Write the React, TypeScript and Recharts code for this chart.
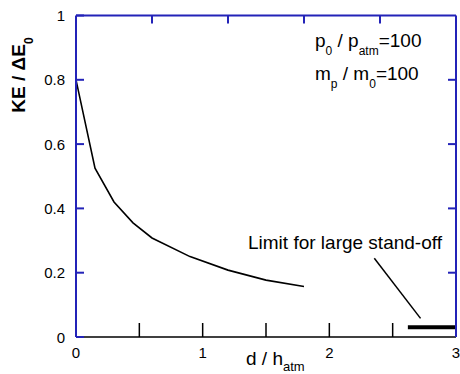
import React from 'react';
import { LineChart, Line, XAxis, YAxis, ReferenceLine } from 'recharts';

// Kinetic energy fraction vs. normalised stand-off distance
const standoff = [0, 0.15, 0.3, 0.45, 0.6, 0.9, 1.2, 1.5, 1.8];
const keRatio = [0.8, 0.525, 0.42, 0.355, 0.308, 0.25, 0.208, 0.177, 0.157];

// Asymptotic value for large stand-off
const limitStandoff = [2.62, 3];
const limitKe = [0.03, 0.03];

// Pointer from the "Limit" caption to the asymptote
const pointerStart = { x: 2.355, y: 0.245 };
const pointerEnd = { x: 2.72, y: 0.058 };

const bottomTicks = [0, 0.5, 1, 1.5, 2, 2.5, 3];
const topTicks = [0, 0.6, 1.2, 1.8, 2.4, 3];
const yTicks = [0, 0.2, 0.4, 0.6, 0.8, 1];

const curveData = standoff.map((x, i) => ({ x, ke: keRatio[i] }));
const limitData = limitStandoff.map((x, i) => ({ x, ke: limitKe[i] }));

const BLUE = '#2323b8';
const FONT = '"Liberation Sans", Arial, sans-serif';

const LeftTick = (props: any) => {
  const { x, y, payload } = props;
  return (
    <g>
      <line x1={x} y1={y} x2={x + 8} y2={y} stroke={BLUE} strokeWidth={2} />
      <text x={x - 11} y={y} textAnchor="end" dominantBaseline="central" fontSize={15} fontFamily={FONT} fill="#000">
        {String(payload.value)}
      </text>
    </g>
  );
};

const RightTick = (props: any) => {
  const { x, y, payload } = props;
  if (payload.value === 0 || payload.value === 1) return <g />;
  return <line x1={x} y1={y} x2={x - 8} y2={y} stroke={BLUE} strokeWidth={2} />;
};

const TopTick = (props: any) => {
  const { x, y, payload } = props;
  if (payload.value === 0 || payload.value === 3) return <g />;
  return <line x1={x} y1={y} x2={x} y2={y + 8} stroke={BLUE} strokeWidth={2} />;
};

const BottomTick = (props: any) => {
  const { x, y, payload } = props;
  const v = payload.value;
  const edge = v === 0 || v === 3;
  return (
    <g>
      {!edge && <line x1={x} y1={y} x2={x} y2={y - 14} stroke="#000" strokeWidth={1.5} />}
      {Number.isInteger(v) && (
        <text x={x} y={y + 15} textAnchor="middle" dominantBaseline="central" fontSize={15} fontFamily={FONT} fill="#000">
          {String(v)}
        </text>
      )}
    </g>
  );
};

export default function App() {
  return (
    <div style={{ position: 'absolute', left: 0, top: 0, width: 460, height: 374, overflow: 'hidden' }}>
      <LineChart width={460} height={374} margin={{ top: 11.5, right: 2, bottom: 27, left: 66 }}>
        <XAxis
          xAxisId="bottom"
          type="number"
          dataKey="x"
          domain={[0, 3]}
          ticks={bottomTicks}
          interval={0}
          orientation="bottom"
          height={10}
          tickSize={0}
          tickMargin={0}
          tick={<BottomTick />}
          axisLine={{ stroke: '#000', strokeWidth: 1.5 }}
          tickLine={false}
          allowDataOverflow
        />
        <XAxis
          xAxisId="top"
          type="number"
          dataKey="x"
          domain={[0, 3]}
          ticks={topTicks}
          interval={0}
          orientation="top"
          height={4}
          tickSize={0}
          tickMargin={0}
          tick={<TopTick />}
          axisLine={{ stroke: BLUE, strokeWidth: 2 }}
          tickLine={false}
          allowDataOverflow
        />
        <YAxis
          yAxisId="left"
          type="number"
          domain={[0, 1]}
          ticks={yTicks}
          interval={0}
          orientation="left"
          width={10}
          tickSize={0}
          tickMargin={0}
          tick={<LeftTick />}
          axisLine={{ stroke: BLUE, strokeWidth: 2 }}
          tickLine={false}
          allowDataOverflow
        />
        <YAxis
          yAxisId="right"
          type="number"
          domain={[0, 1]}
          ticks={yTicks}
          interval={0}
          orientation="right"
          width={2}
          tickSize={0}
          tickMargin={0}
          tick={<RightTick />}
          axisLine={{ stroke: BLUE, strokeWidth: 2 }}
          tickLine={false}
          allowDataOverflow
        />
        <Line
          xAxisId="bottom"
          yAxisId="left"
          data={curveData}
          dataKey="ke"
          type="linear"
          stroke="#000"
          strokeWidth={1.6}
          dot={false}
          isAnimationActive={false}
        />
        <Line
          xAxisId="bottom"
          yAxisId="left"
          data={limitData}
          dataKey="ke"
          type="linear"
          stroke="#000"
          strokeWidth={4}
          dot={false}
          isAnimationActive={false}
        />
        <ReferenceLine
          xAxisId="bottom"
          yAxisId="left"
          segment={[pointerStart, pointerEnd]}
          stroke="#000"
          strokeWidth={1.5}
        />
        <text x={248} y={249} fontSize={19} fontFamily={FONT} fill="#000">
          Limit for large stand-off
        </text>
        <text x={315} y={46.5} fontSize={19} fontFamily={FONT} fill="#000">
          p<tspan fontSize={12} dy={8}>0</tspan>
          <tspan dy={-8}> / p</tspan>
          <tspan fontSize={12} dy={8}>atm</tspan>
          <tspan dy={-8}>=100</tspan>
        </text>
        <text x={315} y={80} fontSize={19} fontFamily={FONT} fill="#000">
          m<tspan fontSize={12} dy={8}>p</tspan>
          <tspan dy={-8}> / m</tspan>
          <tspan fontSize={12} dy={8}>0</tspan>
          <tspan dy={-8}>=100</tspan>
        </text>
        <text x={246} y={365} fontSize={19} fontFamily={FONT} fill="#000">
          d / h<tspan fontSize={13} dy={6}>atm</tspan>
        </text>
        <text
          transform="translate(25 75) rotate(-90)"
          textAnchor="middle"
          fontSize={19}
          fontWeight="bold"
          fontFamily={FONT}
          fill="#000"
        >
          KE / ΔE<tspan fontSize={12} dy={8}>0</tspan>
        </text>
      </LineChart>
    </div>
  );
}
